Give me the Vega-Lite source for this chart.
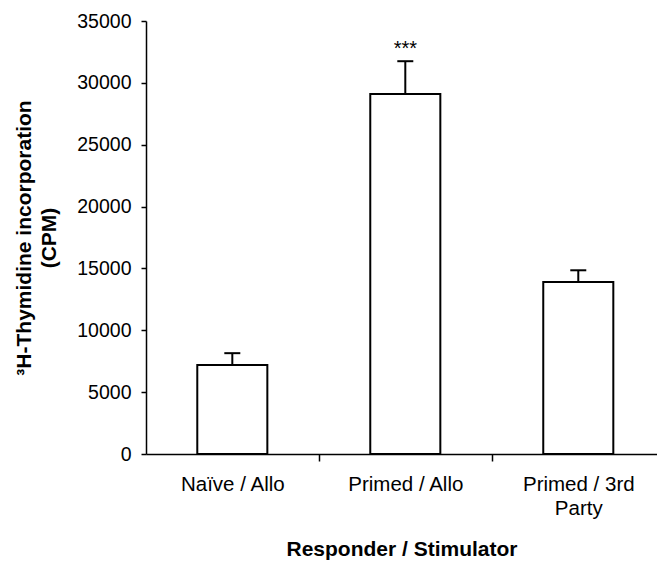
{
  "$schema": "https://vega.github.io/schema/vega-lite/v6.json",
  "autosize": "none",
  "width": 511,
  "height": 433,
  "padding": {"left": 146, "top": 21, "right": 0, "bottom": 108},
  "background": "white",
  "config": {
    "view": {"stroke": null},
    "font": "Liberation Sans"
  },
  "data": {
    "values": [
      {"group": "Naïve / Allo", "cpm": 7200, "upper": 8150, "sig": ""},
      {"group": "Primed / Allo", "cpm": 29100, "upper": 31750, "sig": "***"},
      {"group": "Primed / 3rd|Party", "cpm": 13900, "upper": 14850, "sig": ""}
    ]
  },
  "encoding": {
    "x": {
      "field": "group",
      "type": "nominal",
      "sort": null,
      "scale": {"paddingInner": 0.595, "paddingOuter": 0.2745, "align": 0.54},
      "axis": {
        "title": "Responder / Stimulator",
        "titleFont": "Liberation Sans",
        "titleFontSize": 21,
        "titleFontWeight": "bold",
        "titleColor": "black",
        "titlePadding": 20,
        "labelExpr": "split(datum.label, '|')",
        "labelAngle": 0,
        "labelFont": "Liberation Sans",
        "labelFontSize": 20.5,
        "labelColor": "black",
        "labelLineHeight": 24,
        "labelPadding": 13,
        "labelOffset": -86.5,
        "ticks": true,
        "tickOffset": 86.5,
        "tickSize": 7,
        "tickColor": "black",
        "tickWidth": 1.5,
        "tickOpacity": 1,
        "domainColor": "black",
        "domainWidth": 1.5
      }
    }
  },
  "layer": [
    {
      "mark": {"type": "bar", "fill": "white", "stroke": "black", "strokeWidth": 2},
      "encoding": {
        "y": {
          "field": "cpm",
          "type": "quantitative",
          "scale": {"domain": [0, 35000], "nice": false},
          "axis": {
            "title": ["³H-Thymidine incorporation", "(CPM)"],
            "titleFont": "Liberation Sans",
            "titleFontSize": 21,
            "titleFontWeight": "bold",
            "titleColor": "black",
            "titleLineHeight": 25,
            "titlePadding": 17,
            "values": [0, 5000, 10000, 15000, 20000, 25000, 30000, 35000],
            "format": "d",
            "grid": false,
            "labelFont": "Liberation Sans",
            "labelFontSize": 19.5,
            "labelColor": "black",
            "labelPadding": 10,
            "tickSize": 5,
            "tickColor": "black",
            "tickWidth": 1.5,
            "domainColor": "black",
            "domainWidth": 1.5
          }
        }
      }
    },
    {
      "mark": {"type": "rule", "stroke": "black", "strokeWidth": 2},
      "encoding": {
        "y": {"field": "cpm", "type": "quantitative"},
        "y2": {"field": "upper"}
      }
    },
    {
      "mark": {"type": "tick", "orient": "horizontal", "size": 16, "thickness": 2, "color": "black", "opacity": 1},
      "encoding": {
        "y": {"field": "upper", "type": "quantitative"}
      }
    },
    {
      "mark": {"type": "text", "baseline": "alphabetic", "dy": -6, "fontSize": 20, "font": "Liberation Sans", "color": "black"},
      "encoding": {
        "y": {"field": "upper", "type": "quantitative"},
        "text": {"field": "sig"}
      }
    }
  ]
}
